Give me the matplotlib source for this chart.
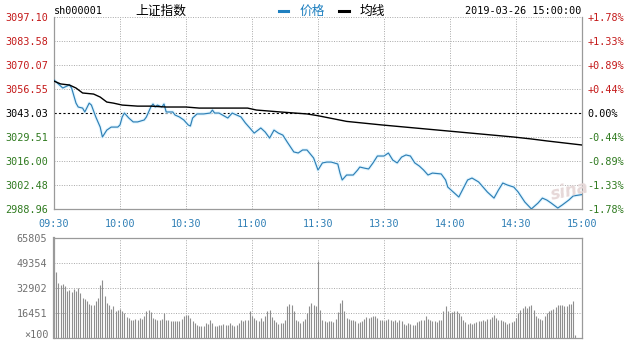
import matplotlib
matplotlib.use("Agg")
import matplotlib.pyplot as plt

# ---- data (minutes since 09:30, lunch break removed) ----
PREV_CLOSE = 3043.03
PRICE_TICKS = [2988.96, 3002.48, 3016.00, 3029.51, 3043.03, 3056.55, 3070.07, 3083.58, 3097.10]
PCT_LABELS = ["-1.78%", "-1.33%", "-0.89%", "-0.44%", "0.00%", "+0.44%", "+0.89%", "+1.33%", "+1.78%"]
TIME_LABELS = ["09:30", "10:00", "10:30", "11:00", "11:30", "13:30", "14:00", "14:30", "15:00"]
TIME_TICKS = [0, 30, 60, 90, 120, 150, 180, 210, 240]

price_min = [0, 4, 5, 7, 8, 10, 11, 13, 14, 16, 17, 19, 21, 22, 24, 26, 29, 30, 31, 32,
             34, 36, 38, 41, 42, 44, 45, 46, 47, 49, 50, 51, 54, 55, 57, 59, 61, 62, 63, 65,
             68, 71, 72, 73, 75, 79, 81, 83, 85, 87, 89, 91, 94, 96, 98, 100, 102, 104, 106, 109,
             111, 113, 115, 118, 120, 122, 124, 126, 129, 130, 131, 133, 136, 138, 139, 141, 143, 145, 147, 150,
             152, 154, 156, 158, 160, 162, 164, 166, 168, 170, 172, 176, 178, 179, 184, 188, 190, 193, 197, 200,
             202, 204, 206, 209, 211, 214, 217, 220, 222, 224, 226, 229, 231, 234, 236, 240]
price_val = [3061.6, 3057.1, 3057.7, 3058.8, 3057.1, 3048.6, 3046.4, 3045.8, 3043.6, 3048.6,
             3047.5, 3040.8, 3035.1, 3029.5, 3033.4, 3035.1, 3035.1, 3036.3, 3040.8, 3043.0,
             3040.2, 3038.0, 3038.0, 3039.1, 3040.8, 3046.4, 3048.1, 3046.4, 3047.5, 3046.4,
             3048.1, 3043.6, 3043.6, 3041.9, 3040.8, 3039.1, 3036.3, 3035.7, 3040.2, 3042.5,
             3042.5, 3043.0, 3044.7, 3043.0, 3043.0, 3040.2, 3043.0, 3041.9, 3040.8, 3037.4,
             3034.6, 3031.7, 3034.6, 3032.3, 3028.9, 3033.4, 3031.7, 3030.6, 3026.7, 3021.1,
             3020.5, 3022.2, 3022.2, 3017.7, 3010.9, 3014.9, 3015.4, 3015.4, 3014.3, 3009.2,
             3005.3, 3008.1, 3008.1, 3010.9, 3012.6, 3012.0, 3011.5, 3014.9, 3018.8, 3018.8,
             3020.5, 3016.5, 3014.9, 3018.2, 3019.4, 3018.8, 3014.9, 3013.2, 3010.9, 3008.1,
             3009.2, 3008.7, 3005.3, 3001.3, 2995.7, 3005.3, 3006.4, 3004.2, 2998.5, 2995.1,
             2999.6, 3003.6, 3002.5, 3001.3, 2998.5, 2992.9, 2989.0, 2992.3, 2995.1, 2994.0,
             2992.3, 2989.5, 2991.2, 2994.0, 2996.3, 2997.1]

avg_min = [0, 3, 7, 10, 13, 18, 21, 24, 27, 31, 38, 44, 51, 60, 66, 88, 92, 103, 115, 120,
           133, 149, 164, 179, 194, 209, 217, 224, 240]
avg_val = [3061.0, 3059.4, 3058.8, 3057.1, 3054.3, 3053.7, 3052.0, 3049.2, 3048.6, 3047.5,
           3046.9, 3046.9, 3046.4, 3046.4, 3045.8, 3045.8, 3044.7, 3043.6, 3042.5, 3041.5,
           3038.3, 3036.3, 3034.6, 3032.9, 3031.2, 3029.5, 3028.4, 3027.3, 3025.0]

VOL_TICKS = [16451, 32902, 49354, 65805]
vol_am = [43200,
          43200, 36200, 35100, 35700, 34400, 30700, 31400, 30000, 32200, 30700,
          32900, 29600, 26300, 25700, 24100, 22400, 21900, 21900, 24100, 26300,
          35100, 37900, 27400, 23000, 21900, 19100, 21300, 17500, 18200, 19100,
          17500, 16400, 13600, 13200, 12100, 11600, 12500, 12100, 13200, 12500,
          14300, 17500, 18200, 16900, 13200, 12500, 11600, 12100, 12500, 16400,
          12100, 11600, 11000, 11000, 11000, 11000, 11000, 12500, 14300, 15400,
          15400, 13200, 11000, 9900, 8800, 8100, 7700, 8100, 9900, 9400,
          12100, 9900, 7700, 8100, 8800, 8800, 9400, 8800, 8800, 9900,
          8800, 8100, 8800, 9900, 11600, 11000, 12100, 11600, 17500, 14300,
          13200, 12100, 11000, 13200, 11000, 14300, 17500, 18600, 13800, 12100,
          10300, 9400, 9900, 9900, 12100, 20800, 22600, 21900, 17500, 12100,
          11000, 9900, 11000, 12500, 16400, 20800, 23000,
          22000, 20800, 50900]
vol_pm = [18600, 12100, 11000, 10500, 11000, 11000, 10300, 12500, 16900, 23000,
          25200, 17500, 13200, 12500, 11600, 11600, 11000, 9900, 10300, 11000,
          12500, 13600, 13200, 13800, 14700, 14300, 13200, 12100, 11600, 11000,
          11600, 12500, 11600, 11000, 11600, 10300, 12100, 11000, 9400, 8800,
          9900, 9400, 8800, 8800, 10300, 11000, 11600, 12100, 14300, 12500,
          11600, 11000, 11000, 10300, 11600, 12100, 17500, 20800, 17500, 16400,
          16900, 17500, 17500, 16400, 14700, 12100, 10300, 9400, 9900, 9400,
          9900, 10300, 11000, 11000, 11600, 11000, 12500, 12500, 13800, 15400,
          13200, 12100, 11600, 11000, 10300, 9400, 9900, 10300, 11000, 13200,
          16400, 18600, 19700, 20800, 19700, 20800, 21900, 18600, 14300, 13200,
          12500, 12100, 14300, 16400, 17500, 18600, 19100, 20400, 21900, 21900,
          21900, 21300, 21300, 22600, 22600, 24100, 2200, 0, 0, 0]
volume = vol_am + vol_pm

RED = "#c41a1a"
GREEN = "#2f7a1f"
BLUE = "#2f7fb5"
GRID = "#a8a8a8"
FRAME = "#9a9a9a"
MONO = "DejaVu Sans Mono"
CJK = ["Noto Sans CJK SC", "DejaVu Sans"]

fig = plt.figure(figsize=(6.34, 3.41), dpi=100)
W, H = 634.0, 341.0

# ---- price panel ----
ax = fig.add_axes([54 / W, 1 - 209 / H, 528 / W, 192 / H])
ax.set_xlim(0, 240)
ax.set_ylim(PRICE_TICKS[0], PRICE_TICKS[-1])
for v in PRICE_TICKS:
    if v == PREV_CLOSE:
        ax.axhline(v, color="black", linestyle=(0, (2, 2)), linewidth=0.8, zorder=1)
    else:
        ax.axhline(v, color=GRID, linestyle=(0, (1, 1.5)), linewidth=0.7, zorder=1)
for t in TIME_TICKS[1:-1]:
    ax.axvline(t, color=GRID, linestyle=(0, (1, 1.5)), linewidth=0.7, zorder=1)

ax.plot(price_min, price_val, color="#e2f6ff", linewidth=2.4, solid_capstyle="round", zorder=2)
ax.plot(price_min, price_val, color=BLUE, linewidth=0.85, zorder=3)
ax.plot(avg_min, avg_val, color="black", linewidth=1.0, zorder=3)

ax.set_yticks(PRICE_TICKS)
ax.set_yticklabels([f"{v:.2f}" for v in PRICE_TICKS], fontfamily=MONO, fontsize=7.3)
for lab, v in zip(ax.get_yticklabels(), PRICE_TICKS):
    lab.set_color(RED if v > PREV_CLOSE else (GREEN if v < PREV_CLOSE else "black"))
ax.set_xticks(TIME_TICKS)
ax.set_xticklabels(TIME_LABELS, fontfamily=MONO, fontsize=7.3, color=BLUE)
ax.tick_params(length=0, pad=4)
ax.tick_params(axis="x", pad=7)
ax.spines["top"].set_visible(False)
for s in ["left", "right", "bottom"]:
    ax.spines[s].set_color(FRAME)
    ax.spines[s].set_linewidth(0.9)

axr = ax.twinx()
axr.set_ylim(ax.get_ylim())
axr.set_yticks(PRICE_TICKS)
axr.set_yticklabels(PCT_LABELS, fontfamily=MONO, fontsize=7.3)
for lab, v in zip(axr.get_yticklabels(), PRICE_TICKS):
    lab.set_color(RED if v > PREV_CLOSE else (GREEN if v < PREV_CLOSE else "black"))
axr.tick_params(length=0, pad=4)
for s in axr.spines.values():
    s.set_visible(False)

# faint watermark
fig.text(549 / W, 1 - 200 / H, "sina", fontsize=12, fontstyle="italic", fontweight="bold",
         color="#e6d8d8", rotation=12, zorder=0)

# ---- header ----
fig.text(54 / W, 1 - 11 / H, "sh000001", fontfamily=MONO, fontsize=7.3, va="center", ha="left")
fig.text(135 / W, 1 - 11 / H, "上证指数", fontfamily=CJK, fontsize=9.2, va="center", ha="left")
fig.lines.append(plt.Line2D([279 / W, 288 / W], [1 - 11 / H] * 2, color="#1f80c0", linewidth=2.2,
                            transform=fig.transFigure))
fig.text(300 / W, 1 - 11 / H, "价格", fontfamily=CJK, fontsize=9.2, va="center", ha="left", color="#1f80c0")
fig.lines.append(plt.Line2D([339 / W, 349 / W], [1 - 11 / H] * 2, color="black", linewidth=2.2,
                            transform=fig.transFigure))
fig.text(360 / W, 1 - 11 / H, "均线", fontfamily=CJK, fontsize=9.2, va="center", ha="left")
fig.text(581 / W, 1 - 11 / H, "2019-03-26 15:00:00", fontfamily=MONO, fontsize=7.3,
         va="center", ha="right")

# ---- volume panel ----
axv = fig.add_axes([54 / W, 1 - 338 / H, 528 / W, 100 / H])
axv.set_xlim(0, 240)
axv.set_ylim(0, VOL_TICKS[-1])
for v in VOL_TICKS[:-1]:
    axv.axhline(v, color=GRID, linestyle=(0, (1, 1.5)), linewidth=0.7, zorder=1)
for t in TIME_TICKS[1:-1]:
    axv.axvline(t, color=GRID, linestyle=(0, (1, 1.5)), linewidth=0.7, zorder=1)
axv.vlines(range(len(volume)), 0, volume, color="#8e8e8e", linewidth=0.8, zorder=2)
axv.set_xticks([])
axv.set_yticks(VOL_TICKS)
axv.set_yticklabels([str(v) for v in VOL_TICKS], fontfamily=MONO, fontsize=7.3, color="#707070")
axv.tick_params(length=0, pad=5)
for s in axv.spines.values():
    s.set_color(FRAME)
    s.set_linewidth(0.9)
axv.spines["left"].set_linewidth(1.6)
fig.text(49 / W, 1 - 335.5 / H, "×100", fontfamily=MONO, fontsize=7.3, color="#707070",
         va="center", ha="right")

fig.savefig("out.png", dpi=100)
